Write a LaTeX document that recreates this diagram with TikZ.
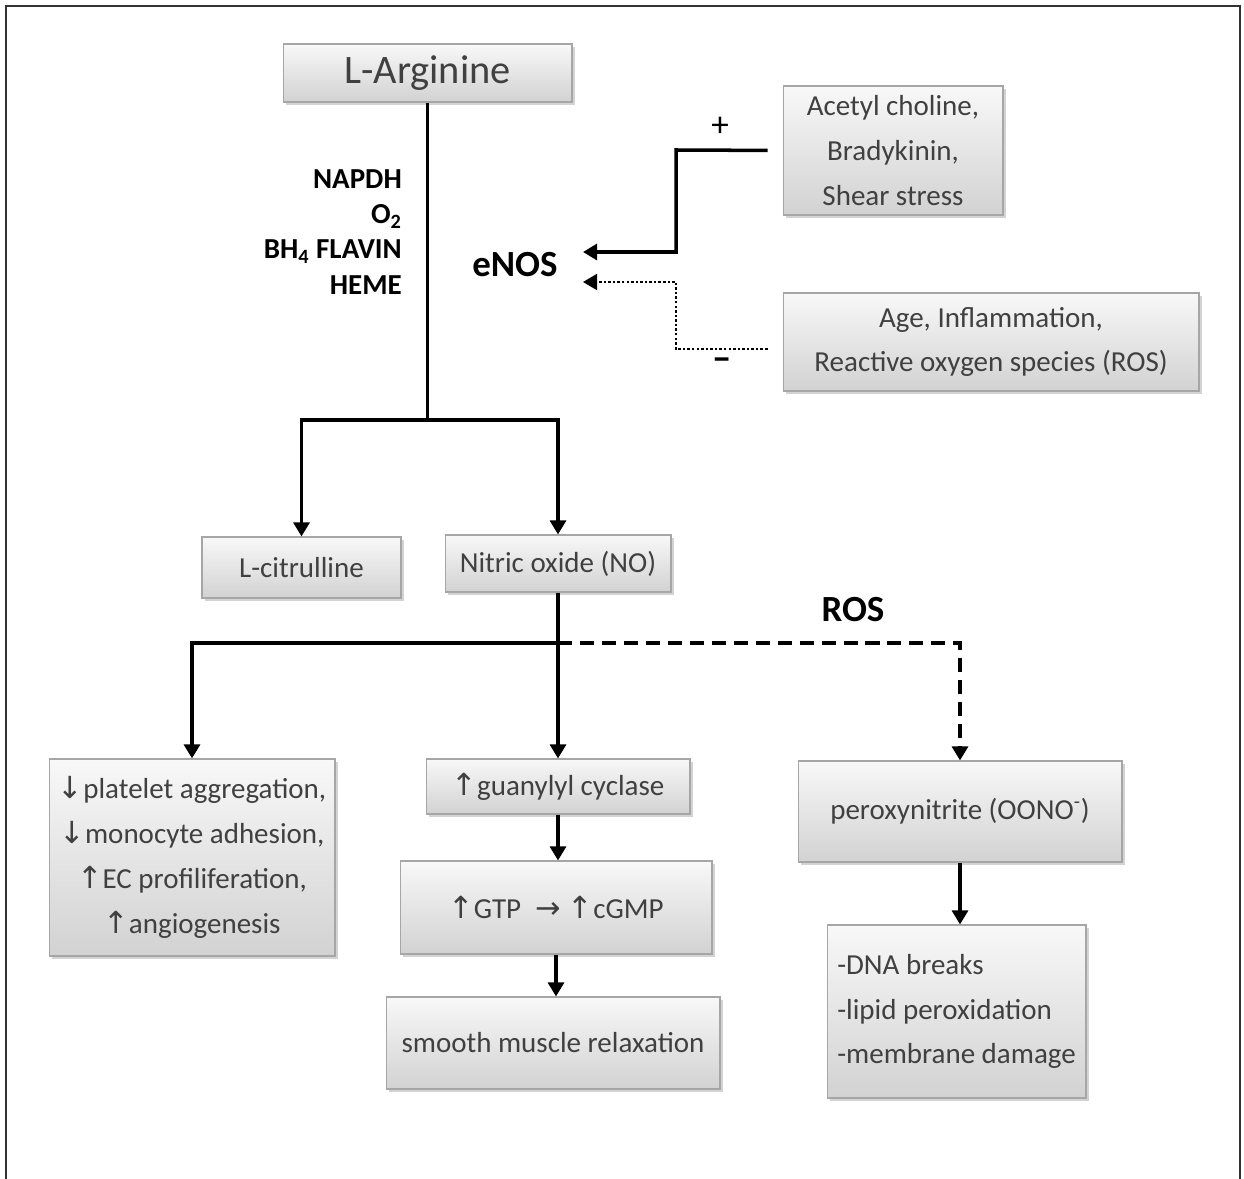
\documentclass[tikz,border=0pt]{standalone}
\usepackage{fontspec}
\setmainfont{Carlito}
\newfontfamily\arrowfont{DejaVu Sans}[Scale=1.05]
\usetikzlibrary{arrows.meta,shadows}
\definecolor{boxedge}{HTML}{A6A6A6}
\definecolor{boxtop}{HTML}{F8F8F8}
\definecolor{boxbottom}{HTML}{D2D2D2}
\definecolor{boxtext}{HTML}{404040}
\newcommand{\uparr}{{\arrowfont ↑}}
\newcommand{\dnarr}{{\arrowfont ↓}}
\newcommand{\rtarr}{{\arrowfont →}}
\tikzset{
  box/.style={draw=boxedge, line width=0.6pt, top color=boxtop, bottom color=boxbottom,
              text=boxtext, align=center, inner sep=1pt,
              font=\fontsize{16.5}{25.5}\selectfont,
              drop shadow={shadow xshift=1.5pt, shadow yshift=-1.8pt, opacity=0.35}},
  tag/.style={font=\bfseries\fontsize{21}{25}\selectfont},
  link/.style={line width=2pt},
  arrow/.style={link, -{Triangle[length=8pt,width=9pt]}},
  rosline/.style={arrow, dash pattern=on 8pt off 4.5pt},
  inhibit/.style={line width=1.4pt, dash pattern=on 1.4pt off 1.2pt,
                  -{Triangle[length=8pt,width=9pt]}},
}

\begin{document}
\begin{tikzpicture}[x=0.02cm, y=-0.02cm]
  \useasboundingbox (0,0) rectangle (1244,1179);
  % frame
  \draw[line width=1.5pt, black!80] (6,1179) -- (6,6) -- (1240,6) -- (1240,1179);

  % boxes
  \node[box, minimum width=5.78cm, minimum height=1.16cm,
        font=\fontsize{23}{26}\selectfont] (arg) at (427.5,73) {L-Arginine};
  \node[box, minimum width=4.40cm, minimum height=2.58cm] (ach) at (893,150.5)
        {Acetyl choline,\\Bradykinin,\\Shear stress};
  \node[box, minimum width=8.32cm, minimum height=1.96cm] (age) at (991,342)
        {Age, Inflammation,\\Reactive oxygen species (ROS)};
  \node[box, minimum width=3.98cm, minimum height=1.22cm] (cit) at (301.5,567.5) {L-citrulline};
  \node[box, minimum width=4.52cm, minimum height=1.14cm] (no) at (558,563.5) {Nitric oxide (NO)};
  \node[box, minimum width=5.72cm, minimum height=3.94cm] (plt) at (192,857.5)
        {\dnarr platelet aggregation,\\\dnarr monocyte adhesion,\\
         \uparr EC profiliferation,\\\uparr angiogenesis};
  \node[box, minimum width=5.28cm, minimum height=1.10cm] (gc) at (558,786.5) {\uparr guanylyl cyclase};
  \node[box, minimum width=6.24cm, minimum height=1.86cm] (gtp) at (556,907.5)
        {\uparr GTP\enspace\rtarr\ \uparr cGMP};
  \node[box, minimum width=6.68cm, minimum height=1.84cm] (smc) at (553,1043) {smooth muscle relaxation};
  \node[box, minimum width=6.48cm, minimum height=2.02cm] (pon) at (960,811.5)
        {peroxynitrite (OONO\textsuperscript{-})};
  \node[box, minimum width=5.18cm, minimum height=3.46cm, align=left] (dna) at (956.5,1011.5)
        {-DNA breaks\\-lipid peroxidation\\-membrane damage};

  % labels
  \node[tag, inner xsep=0.5cm] (enos) at (515,265) {eNOS};
  \node[tag] (ros) at (853,610) {ROS};
  \node[font=\bfseries\fontsize{16.5}{20}\selectfont, align=right, anchor=east] (cofac) at (408,232)
        {NAPDH\\O\textsubscript{2}\\BH\textsubscript{4} FLAVIN\\HEME};
  \node[font=\fontsize{20}{20}\selectfont] (plus) at (720,127) {+};
  \node[font=\bfseries\fontsize{22}{22}\selectfont] (minus) at (722,364) {--};

  % arginine pathway
  \draw[link] (arg.south) -- (arg.south |- 0,420) coordinate (jn);
  \draw[arrow] (jn) -| (cit.north);
  \draw[arrow] (jn) -| (no.north);
  \draw[arrow, shorten <=0.3cm] (ach.west) -- (676,150) |- ([yshift=0.26cm]enos.east);
  \draw[inhibit, shorten <=0.3cm] (age.west |- 0,349) -- (676,349) |- ([yshift=-0.34cm]enos.east);

  % nitric oxide effects
  \draw[arrow] (no.south) -- (gc.north);
  \draw[arrow] (no.south |- 0,643) coordinate (jn2) -| (plt.north);
  \draw[rosline] (jn2) -| (pon.north);
  \draw[arrow] (gc.south) -- (gc.south |- gtp.north);
  \draw[arrow] (gtp.south) -- (gtp.south |- smc.north);
  \draw[arrow] (pon.south) -- (pon.south |- dna.north);
\end{tikzpicture}
\end{document}
